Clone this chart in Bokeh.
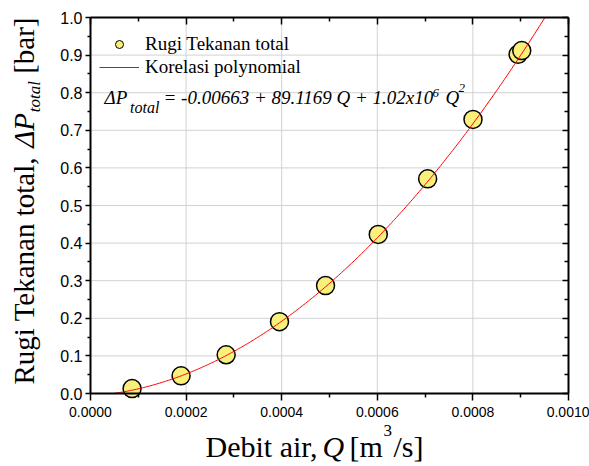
import numpy as np
from math import pi, sin, cos
from bokeh.plotting import figure
from bokeh.models import (ColumnDataSource, Range1d, LinearAxis, FixedTicker,
                          NumeralTickFormatter, Label, Legend, LegendItem)
from bokeh.embed import file_html
from bokeh.resources import INLINE

# ---------------- data ----------------
debit_air = [0.0000870, 0.0001895, 0.0002838, 0.0003954, 0.0004917,
             0.0006020, 0.0007053, 0.0008002, 0.0008945, 0.0009022]   # Q [m3/s]
rugi_tekanan = [0.013, 0.047, 0.103, 0.191, 0.287,
                0.423, 0.571, 0.729, 0.902, 0.912]                     # dP [bar]
fit_coeffs = [-0.00663, 89.1169, 1.02e6]                               # dP = c0 + c1 Q + c2 Q^2
x_ticks = [0.0000, 0.0002, 0.0004, 0.0006, 0.0008, 0.0010]
y_ticks = [0.0, 0.1, 0.2, 0.3, 0.4, 0.5, 0.6, 0.7, 0.8, 0.9, 1.0]
legend_labels = ["Rugi Tekanan total", "Korelasi polynomial"]

# ---------------- layout constants (pixels) ----------------
W, H = 589, 466
FL, FR, FT, FB = 90, 21, 17, 73          # plot-box margins inside the canvas
xmin, xmax = x_ticks[0], x_ticks[-1]
ymin, ymax = y_ticks[0], y_ticks[-1]
sx = (xmax - xmin) / (W - FL - FR)
sy = (ymax - ymin) / (H - FT - FB)

p = figure(width=W, height=H, output_backend="svg", toolbar_location=None,
           x_range=Range1d(xmin - FL * sx, xmax + FR * sx),
           y_range=Range1d(ymin - FB * sy, ymax + FT * sy),
           x_axis_location=None, y_axis_location=None,
           min_border=0, min_border_left=0, min_border_right=0,
           min_border_top=0, min_border_bottom=0)
p.background_fill_color = "white"
p.border_fill_color = "white"
p.outline_line_color = None
p.grid.visible = False

x_minor = [(a + b) / 2 for a, b in zip(x_ticks[:-1], x_ticks[1:])]
y_minor = [(a + b) / 2 for a, b in zip(y_ticks[:-1], y_ticks[1:])]

def make_axis(ticks, minor, loc, bounds, tick_in, tick_out, minor_in, minor_out,
              fmt=None, size="14px", labels=True, standoff=4):
    ax = LinearAxis(ticker=FixedTicker(ticks=ticks, minor_ticks=minor),
                    fixed_location=loc, bounds=bounds)
    ax.axis_line_color = "black"
    ax.axis_line_width = 2
    ax.major_tick_line_color = "black"
    ax.minor_tick_line_color = "black"
    ax.major_tick_line_width = 1.5
    ax.minor_tick_line_width = 1.5
    ax.major_tick_in = tick_in
    ax.major_tick_out = tick_out
    ax.minor_tick_in = minor_in
    ax.minor_tick_out = minor_out
    if labels:
        ax.formatter = NumeralTickFormatter(format=fmt)
        ax.major_label_text_font = "Liberation Sans"
        ax.major_label_text_font_size = size
        ax.major_label_text_color = "black"
        ax.major_label_standoff = standoff
    else:
        ax.major_label_text_font_size = "1px"
        ax.major_label_text_color = None
        ax.major_label_standoff = 0
    return ax

p.add_layout(make_axis(x_ticks, x_minor, ymin, (xmin, xmax), 0, 7, 0, 4, "0.0000", "14px", standoff=6), "below")
p.add_layout(make_axis(y_ticks, y_minor, xmin, (ymin, ymax), 0, 5, 0, 3, "0.0", "16px", standoff=3), "left")
p.add_layout(make_axis(x_ticks, x_minor, ymax, (xmin, xmax), 7, 0, 4, 0, labels=False), "above")
p.add_layout(make_axis(y_ticks, y_minor, xmax, (ymin, ymax), 6, 0, 4, 0, labels=False), "right")

# grid lines at the inner major ticks, limited to the plot box
gx = x_ticks[1:-1]
gy = y_ticks[1:-1]
p.segment(x0=gx, y0=[ymin] * len(gx), x1=gx, y1=[ymax] * len(gx),
          line_color="#d2d2d2", line_width=1, level="underlay")
p.segment(x0=[xmin] * len(gy), y0=gy, x1=[xmax] * len(gy), y1=gy,
          line_color="#d2d2d2", line_width=1, level="underlay")

# ---------------- glyphs ----------------
MARKER_FILL = "#F9F07C"
src = ColumnDataSource(dict(q=debit_air, dp=rugi_tekanan))

# small swatch renderer for the legend (drawn first, hidden under the big markers)
leg_sc = p.scatter("q", "dp", source=src, marker="circle", size=8,
                   fill_color=MARKER_FILL, line_color="black", line_width=1)
sc = p.scatter("q", "dp", source=src, marker="circle", size=18,
               fill_color=MARKER_FILL, line_color="black", line_width=1.5)

c0, c1, c2 = fit_coeffs
def q_at(level):
    return (-c1 + np.sqrt(c1 ** 2 - 4 * c2 * (c0 - level))) / (2 * c2)
q_fit = np.linspace(q_at(ymin), q_at(ymax), 300)
dp_fit = c0 + c1 * q_fit + c2 * q_fit ** 2
ln = p.line(q_fit, dp_fit, line_color="#FF0000", line_width=1)

legend = Legend(items=[LegendItem(label=legend_labels[0], renderers=[leg_sc], index=0),
                       LegendItem(label=legend_labels[1], renderers=[ln])],
                location=(99, 388), padding=0, margin=0, spacing=0,
                glyph_width=40, glyph_height=20, label_height=23, label_standoff=6,
                label_text_font="Liberation Serif", label_text_font_size="19px",
                label_text_color="black",
                border_line_color=None, background_fill_alpha=0)
p.add_layout(legend)

# ---------------- texts (canvas pixel coords, top-left origin, baseline anchored) ----------------
K = 0.34   # correction from requested baseline to Bokeh's drawn baseline

def txt(s, cx, cy, size, style="normal", angle=0.0):
    cx2 = cx - K * size * sin(angle)
    cy2 = cy - K * size * cos(angle)
    p.add_layout(Label(x=cx2, y=H - cy2, x_units="screen", y_units="screen",
                       text=s, text_font="Liberation Serif", text_font_size=f"{size}px",
                       text_font_style=style, text_color="black", text_align="left",
                       text_baseline="alphabetic", angle=angle))

# equation
txt("\u0394P", 104, 103, 19, "italic")
txt("total", 129.5, 112, 16, "italic")
txt("= -0.00663 + 89.1169 Q + 1.02x10", 163, 103, 19, "italic")
txt("6", 432, 97, 13, "italic")
txt("Q", 445, 103, 19, "italic")
txt("2", 458, 92, 13, "italic")

# x axis title
fx = 30
txt("Debit air,", 205, 456, fx)
txt("Q", 322, 456, fx, "italic")
txt("[m", 349, 456, fx)
txt("3", 383, 436, 17)
txt("/s]", 393, 456, fx)

# y axis title (rotated, reading upward)
fy = 29
fs = 17
by = 33
y0 = 384
txt("Rugi Tekanan total,", by, y0, fy, angle=pi / 2)
y1 = y0 - 8.166 * fy
txt("\u0394P", by, y1, fy, "italic", angle=pi / 2)
y2 = y1 - 1.222 * fy
txt("total", by + 7, y2, fs, "italic", angle=pi / 2)
y3 = y2 - 1.834 * fs - 0.25 * fy
txt("[bar]", by, y3, fy, angle=pi / 2)

open("out.html", "w").write(file_html(p, INLINE))
